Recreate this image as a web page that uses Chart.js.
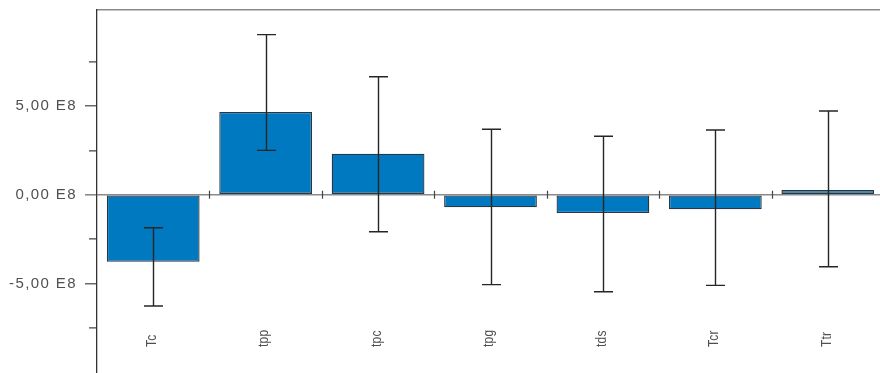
<!DOCTYPE html>
<html>
<head>
<meta charset="utf-8">
<script src="https://cdn.jsdelivr.net/npm/chart.js@4/dist/chart.umd.min.js"></script>
<style>
  html, body { margin: 0; padding: 0; background: #ffffff; overflow: hidden; }
  #wrap { width: 884px; height: 373px; }
</style>
</head>
<body>
<div id="wrap"><canvas id="c" width="884" height="373"></canvas></div>
<script>
// Effect estimates per term, with the upper and lower ends of each error bar
const categories = ['Tc', 'tpp', 'tpc', 'tpg', 'tds', 'Tcr', 'Ttr'];
const effects    = [-3.78e8, 4.66e8, 2.31e8, -0.71e8, -1.03e8, -0.82e8, 0.26e8];
const errorHigh  = [-1.86e8, 9.02e8, 6.65e8, 3.69e8, 3.29e8, 3.65e8, 4.72e8];
const errorLow   = [-6.27e8, 2.50e8, -2.09e8, -5.07e8, -5.47e8, -5.11e8, -4.06e8];
const yTickValues = [-7.5e8, -5e8, -2.5e8, 0, 2.5e8, 5e8, 7.5e8];

const TEXT_COLOR = '#505050';
const LABEL_FONT = '"Liberation Sans", Arial, Helvetica, sans-serif';

function formatE8(v) {
  return (v / 1e8).toFixed(2).replace('.', ',') + ' E8';
}
function isMajor(v) {
  return Math.abs(v % 5e8) < 1;
}

// Wider text spacing for the value axis labels
const spacingPlugin = {
  id: 'spacing',
  beforeDraw(chart) { chart.ctx.letterSpacing = '1.4px'; },
  beforeDatasetsDraw(chart) { chart.ctx.letterSpacing = '0px'; }
};

// Small marks on the zero line between categories
const separatorPlugin = {
  id: 'separators',
  afterDatasetsDraw(chart) {
    const xs = chart.scales.x, ys = chart.scales.y, ctx = chart.ctx;
    const y0 = ys.getPixelForValue(0);
    ctx.save();
    ctx.strokeStyle = '#444444';
    ctx.lineWidth = 1.2;
    for (let i = 1; i < categories.length; i++) {
      const x = Math.round((xs.getPixelForValue(i - 1) + xs.getPixelForValue(i)) / 2) + 0.5;
      ctx.beginPath();
      ctx.moveTo(x, y0 - 4);
      ctx.lineTo(x, y0 + 4);
      ctx.stroke();
    }
    ctx.restore();
  }
};

// Error bars with caps
const errorBarPlugin = {
  id: 'errorBars',
  afterDatasetsDraw(chart) {
    const ys = chart.scales.y, ctx = chart.ctx;
    const meta = chart.getDatasetMeta(0);
    ctx.save();
    ctx.strokeStyle = '#262626';
    ctx.lineWidth = 1.4;
    meta.data.forEach((bar, i) => {
      const x = Math.round(bar.x) + 0.5;
      const yh = ys.getPixelForValue(errorHigh[i]);
      const yl = ys.getPixelForValue(errorLow[i]);
      ctx.beginPath();
      ctx.moveTo(x, yh); ctx.lineTo(x, yl);
      ctx.moveTo(x - 9.5, yh); ctx.lineTo(x + 9.5, yh);
      ctx.moveTo(x - 9.5, yl); ctx.lineTo(x + 9.5, yl);
      ctx.stroke();
    });
    ctx.restore();
  }
};

// Category names, rotated, set inside the lower part of the plot
const categoryLabelPlugin = {
  id: 'categoryLabels',
  afterDraw(chart) {
    const xs = chart.scales.x, ctx = chart.ctx;
    const yBase = chart.chartArea.bottom - 26;
    ctx.save();
    ctx.fillStyle = TEXT_COLOR;
    ctx.font = '12px ' + LABEL_FONT;
    ctx.letterSpacing = '0.2px';
    ctx.textAlign = 'left';
    ctx.textBaseline = 'middle';
    categories.forEach((name, i) => {
      const x = xs.getPixelForValue(i) - 1;
      ctx.save();
      ctx.translate(x, yBase);
      ctx.rotate(-Math.PI / 2);
      ctx.scale(1, 1.15);
      ctx.fillText(name, 0, 0);
      ctx.restore();
    });
    ctx.restore();
  }
};

new Chart(document.getElementById('c'), {
  type: 'bar',
  data: {
    labels: categories,
    datasets: [{
      data: effects,
      backgroundColor: '#0079c1',
      borderColor: '#2c3642',
      borderWidth: 1.3,
      borderSkipped: false,
      barPercentage: 0.825,
      categoryPercentage: 1.0
    }]
  },
  options: {
    responsive: false,
    devicePixelRatio: 1,
    animation: false,
    layout: { padding: { top: 10, right: 0, bottom: 0, left: 0 } },
    plugins: {
      legend: { display: false },
      tooltip: { enabled: false },
      title: { display: false }
    },
    scales: {
      x: {
        position: 'top',
        offset: true,
        grid: { display: false, drawTicks: false },
        border: { display: true, color: '#8a8a8a', width: 1.6 },
        ticks: { display: false, padding: 0 },
        afterFit(scale) { scale.height = 0; }
      },
      y: {
        min: -10.05e8,
        max: 10.41e8,
        afterBuildTicks(scale) {
          scale.ticks = yTickValues.map(v => ({ value: v }));
        },
        afterFit(scale) {
          scale.width = 97;
          scale.paddingTop = 0;
          scale.paddingBottom = 0;
        },
        border: { display: true, color: '#333333', width: 1.3 },
        grid: {
          drawOnChartArea: true,
          drawTicks: true,
          tickLength: 12,
          lineWidth: 1.6,
          tickWidth: (c) => (c.tick && c.tick.value === 0 ? 1.6 : 1.2),
          color: (c) => (c.tick && c.tick.value === 0 ? '#8a8a8a' : 'rgba(0,0,0,0)'),
          tickColor: (c) => (c.tick && c.tick.value === 0 ? '#8a8a8a' : '#444444'),
          tickBorderDash: (c) => (c.tick && isMajor(c.tick.value) ? [] : [0, 4, 8, 100])
        },
        ticks: {
          padding: 8,
          color: TEXT_COLOR,
          font: { family: LABEL_FONT, size: 15 },
          callback: (v) => (isMajor(v) ? formatE8(v) : '')
        }
      }
    }
  },
  plugins: [spacingPlugin, separatorPlugin, errorBarPlugin, categoryLabelPlugin]
});
</script>
</body>
</html>
